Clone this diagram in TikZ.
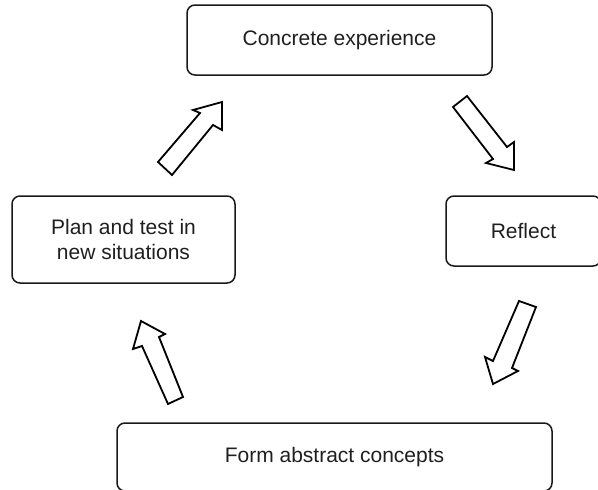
\documentclass[tikz,border=0pt]{standalone}
\usepackage{fontspec}
\setmainfont{Liberation Sans}
\begin{document}
\begin{tikzpicture}[x=1pt,y=-1pt,
  box/.style={draw=black!90, rounded corners=8pt, line width=1.5pt, align=center,
    font=\fontsize{21}{24.6}\selectfont, text=black!88, inner sep=0pt},
  blockarrow/.style={draw=black, line width=1.8pt, fill=white, line join=miter}]
\useasboundingbox (0,0) rectangle (598,490);
\node[box, minimum width=305pt, minimum height=70pt] (ce) at (339.5,40) {Concrete experience};
\node[box, minimum width=223pt, minimum height=87pt] (pl) at (123.5,239.5) {Plan and test in\\new situations};
\node[box, minimum width=155pt, minimum height=70pt] (rf) at (523.5,231) {Reflect};
\node[box, minimum width=435pt, minimum height=68pt] (fa) at (334.5,457) {Form abstract concepts};
% block arrows of the cycle
\draw[blockarrow] (158,162) -- (200,113) -- (193,110) -- (222,102) -- (222,130) -- (213,125) -- (172,175) -- cycle;
\draw[blockarrow] (453,107) -- (493,159) -- (486,163) -- (514,170) -- (514,142) -- (507,147) -- (467,96) -- cycle;
\draw[blockarrow] (519,301) -- (493,361) -- (485,357) -- (493,384) -- (518,371) -- (512,368) -- (536,307) -- cycle;
\draw[blockarrow] (168,404) -- (142,346) -- (133,349) -- (141,321) -- (165,334) -- (159,337) -- (183,397) -- cycle;
\end{tikzpicture}
\end{document}
